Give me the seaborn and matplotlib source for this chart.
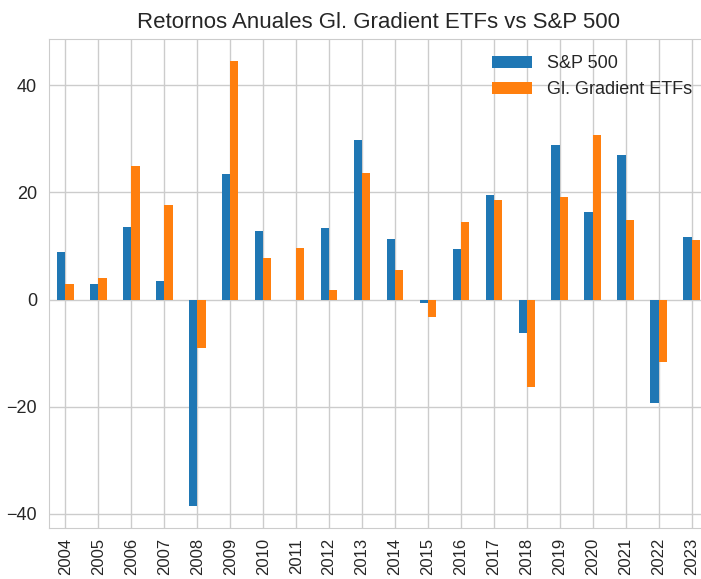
import pandas as pd
import matplotlib
matplotlib.use("Agg")
import matplotlib.pyplot as plt
import seaborn as sns

years = [str(y) for y in range(2004, 2024)]
sp500 = [8.9, 2.9, 13.6, 3.5, -38.5, 23.5, 12.8, 0.0, 13.3, 29.7,
         11.3, -0.7, 9.4, 19.6, -6.3, 28.9, 16.3, 27.0, -19.4, 11.7]
gradient = [2.9, 4.0, 25.0, 17.6, -9.0, 44.5, 7.7, 9.7, 1.8, 23.7,
            5.5, -3.2, 14.4, 18.6, -16.4, 19.1, 30.7, 14.8, -11.7, 11.2]
series_names = ["S&P 500", "Gl. Gradient ETFs"]
colors = ["#1f77b4", "#ff7f0e"]

df = pd.DataFrame({"year": years, series_names[0]: sp500, series_names[1]: gradient})
long_df = df.melt(id_vars="year", var_name="serie", value_name="retorno")

sns.set_style("whitegrid", {"grid.color": ".8", "axes.edgecolor": ".8"})
plt.rcParams["font.family"] = ["Liberation Sans", "DejaVu Sans"]

fig = plt.figure(figsize=(7.01, 5.79), dpi=100)
ax = fig.add_axes([49 / 701, 51 / 579, 659 / 701, 489 / 579])

sns.barplot(data=long_df, x="year", y="retorno", hue="serie", hue_order=series_names,
            palette=colors, width=0.5, saturation=1, linewidth=0, edgecolor="none", ax=ax)

ax.grid(True, axis="both", color=".8", linewidth=1)
ax.set_axisbelow(True)
ax.set_xlabel("")
ax.set_ylabel("")
ax.set_title("Retornos Anuales Gl. Gradient ETFs vs S&P 500", fontsize=16, color=".15", pad=8)
ax.tick_params(axis="x", rotation=90, labelsize=12, colors=".15")
ax.tick_params(axis="y", labelsize=13, colors=".15", pad=5)
ax.legend(loc="upper right", frameon=False, fontsize=13, handlelength=2.2)

fig.savefig("out.png", dpi=100)
